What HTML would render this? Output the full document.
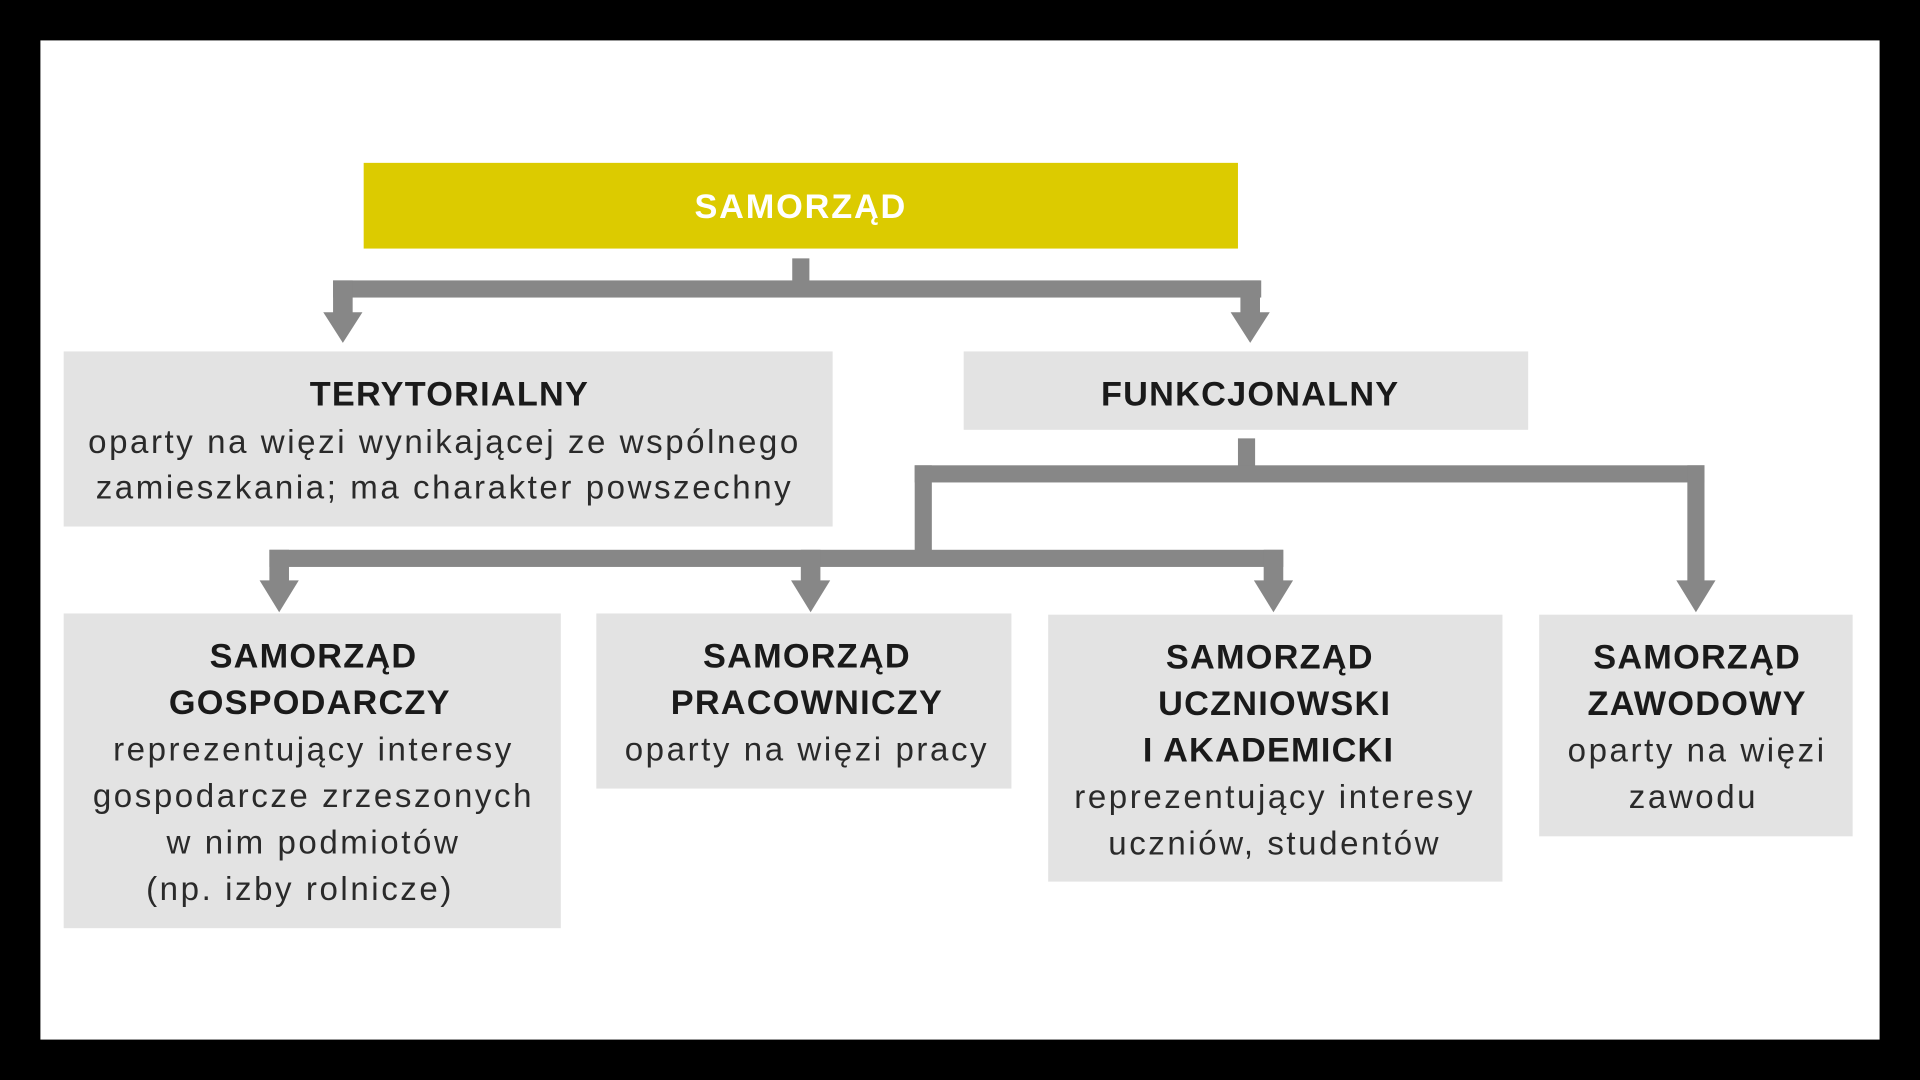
<!DOCTYPE html>
<html><head><meta charset="utf-8"><style>
html,body{margin:0;padding:0;background:#000;}
svg{display:block;}
text{font-family:"Liberation Sans",sans-serif;fill:#1a1a1a;text-anchor:middle;}
.t{font-weight:bold;font-size:28px;letter-spacing:1px;}
.d{font-size:27px;fill:#2a2a2a;letter-spacing:2.1px;}
</style></head><body>
<svg width="1920" height="1080" viewBox="0 0 1568 882" xmlns="http://www.w3.org/2000/svg">
<rect x="0" y="0" width="1568" height="882" fill="#000"/>
<rect x="33" y="33" width="1502" height="816" fill="#fff"/>
<rect x="297" y="133" width="714" height="70" fill="#dccb00"/>
<text x="654" y="178" class="t" style="fill:#fff;letter-spacing:1.5px">SAMORZĄD</text>
<g fill="#878787">
<rect x="647" y="211" width="14" height="25"/>
<rect x="272" y="229" width="758" height="14"/>
<rect x="272" y="229" width="16" height="28"/>
<rect x="1013" y="229" width="16" height="28"/>
<polygon points="264,255 296,255 280,280"/>
<polygon points="1005,255 1037,255 1021,280"/>
<rect x="1011" y="358" width="14" height="25"/>
<rect x="747" y="380" width="645" height="14"/>
<rect x="747" y="380" width="14" height="80"/>
<rect x="1378" y="380" width="14" height="95"/>
<polygon points="1369,474 1401,474 1385,500"/>
<rect x="220" y="449" width="828" height="14"/>
<rect x="220" y="449" width="16" height="26"/>
<rect x="654" y="449" width="16" height="26"/>
<rect x="1032" y="449" width="16" height="26"/>
<polygon points="212,474 244,474 228,500"/>
<polygon points="646,474 678,474 662,500"/>
<polygon points="1024,474 1056,474 1040,500"/>
</g>
<g fill="#e3e3e3">
<rect x="52" y="287" width="628" height="143"/>
<rect x="787" y="287" width="461" height="64"/>
<rect x="52" y="501" width="406" height="257"/>
<rect x="487" y="501" width="339" height="143"/>
<rect x="856" y="502" width="371" height="218"/>
<rect x="1257" y="502" width="256" height="181"/>
</g>
<text x="367" y="331" class="t">TERYTORIALNY</text>
<text x="363" y="370" class="d">oparty na więzi wynikającej ze wspólnego</text>
<text x="363" y="407" class="d">zamieszkania; ma charakter powszechny</text>
<text x="1021" y="331" class="t">FUNKCJONALNY</text>
<text x="256" y="545" class="t">SAMORZĄD</text>
<text x="253" y="583" class="t">GOSPODARCZY</text>
<text x="256" y="621" class="d">reprezentujący interesy</text>
<text x="256" y="659" class="d">gospodarcze zrzeszonych</text>
<text x="256" y="697" class="d">w nim podmiotów</text>
<text x="245" y="735" class="d">(np. izby rolnicze)</text>
<text x="659" y="545" class="t">SAMORZĄD</text>
<text x="659" y="583" class="t">PRACOWNICZY</text>
<text x="659" y="621" class="d">oparty na więzi pracy</text>
<text x="1037" y="546" class="t">SAMORZĄD</text>
<text x="1041" y="584" class="t">UCZNIOWSKI</text>
<text x="1036" y="622" class="t">I AKADEMICKI</text>
<text x="1041" y="660" class="d">reprezentujący interesy</text>
<text x="1041" y="698" class="d">uczniów, studentów</text>
<text x="1386" y="546" class="t">SAMORZĄD</text>
<text x="1386" y="584" class="t">ZAWODOWY</text>
<text x="1386" y="622" class="d">oparty na więzi</text>
<text x="1383" y="660" class="d">zawodu</text>
</svg>
</body></html>
